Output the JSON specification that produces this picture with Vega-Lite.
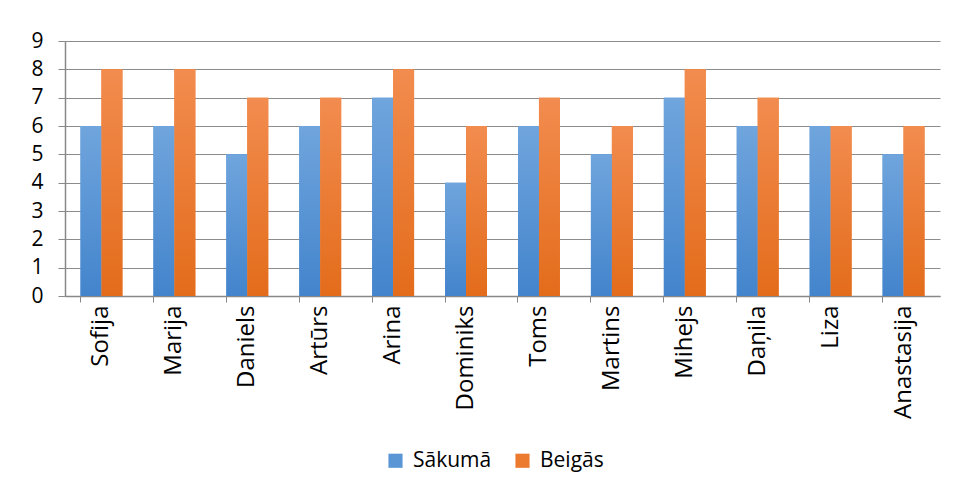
{
  "$schema": "https://vega.github.io/schema/vega-lite/v6.json",
  "width": 875,
  "height": 255,
  "autosize": {"type": "none"},
  "padding": {"left": 65, "top": 41, "right": 18, "bottom": 201},
  "background": "white",
  "data": {
    "values": [
      {"name": "Sofija", "series": "Sākumā", "value": 6},
      {"name": "Sofija", "series": "Beigās", "value": 8},
      {"name": "Marija", "series": "Sākumā", "value": 6},
      {"name": "Marija", "series": "Beigās", "value": 8},
      {"name": "Daniels", "series": "Sākumā", "value": 5},
      {"name": "Daniels", "series": "Beigās", "value": 7},
      {"name": "Artūrs", "series": "Sākumā", "value": 6},
      {"name": "Artūrs", "series": "Beigās", "value": 7},
      {"name": "Arina", "series": "Sākumā", "value": 7},
      {"name": "Arina", "series": "Beigās", "value": 8},
      {"name": "Dominiks", "series": "Sākumā", "value": 4},
      {"name": "Dominiks", "series": "Beigās", "value": 6},
      {"name": "Toms", "series": "Sākumā", "value": 6},
      {"name": "Toms", "series": "Beigās", "value": 7},
      {"name": "Martins", "series": "Sākumā", "value": 5},
      {"name": "Martins", "series": "Beigās", "value": 6},
      {"name": "Mihejs", "series": "Sākumā", "value": 7},
      {"name": "Mihejs", "series": "Beigās", "value": 8},
      {"name": "Daņila", "series": "Sākumā", "value": 6},
      {"name": "Daņila", "series": "Beigās", "value": 7},
      {"name": "Liza", "series": "Sākumā", "value": 6},
      {"name": "Liza", "series": "Beigās", "value": 6},
      {"name": "Anastasija", "series": "Sākumā", "value": 5},
      {"name": "Anastasija", "series": "Beigās", "value": 6}
    ]
  },
  "encoding": {
    "x": {
      "field": "name",
      "type": "nominal",
      "sort": null,
      "title": null,
      "scale": {"paddingInner": 0.425, "paddingOuter": 0.2125},
      "axis": {
        "labelAngle": -90,
        "labelAlign": "right",
        "labelBaseline": "middle",
        "labelFont": "Open Sans",
        "labelFontSize": 24,
        "labelColor": "#000000",
        "labelPadding": 3,
        "bandPosition": 0,
        "tickColor": "#888888",
        "tickSize": 6,
        "domainColor": "#888888",
        "domainWidth": 1.5,
        "grid": false
      }
    },
    "xOffset": {
      "field": "series",
      "type": "nominal",
      "sort": ["Sākumā", "Beigās"],
      "scale": {"domain": ["Sākumā", "Beigās"], "paddingInner": 0, "paddingOuter": 0}
    },
    "y": {
      "field": "value",
      "type": "quantitative",
      "title": null,
      "scale": {"domain": [0, 9], "nice": false},
      "axis": {
        "values": [0, 1, 2, 3, 4, 5, 6, 7, 8, 9],
        "labelFont": "Open Sans",
        "labelFontSize": 21,
        "labelColor": "#000000",
        "labelPadding": 15,
        "labelOverlap": false,
        "tickColor": "#888888",
        "tickSize": 7,
        "domainColor": "#888888",
        "domainWidth": 1.5,
        "gridColor": "#8c8c8c",
        "gridWidth": 1
      }
    }
  },
  "layer": [
    {
      "mark": {"type": "bar"},
      "encoding": {
        "color": {
          "field": "series",
          "type": "nominal",
          "sort": ["Sākumā", "Beigās"],
          "scale": {"domain": ["Sākumā", "Beigās"], "range": ["#5a96d6", "#ec7b30"]},
          "legend": {
            "title": null,
            "orient": "none",
            "legendX": 320,
            "legendY": 409,
            "direction": "horizontal",
            "symbolType": "square",
            "symbolSize": 200,
            "symbolStrokeWidth": 0,
            "labelFont": "Open Sans",
            "labelFontSize": 21,
            "labelColor": "#000000",
            "labelOffset": 7,
            "columnPadding": 20
          }
        }
      }
    },
    {
      "transform": [{"filter": "datum.series === 'Sākumā'"}],
      "mark": {
        "type": "bar",
        "fill": {
          "gradient": "linear",
          "x1": 0, "y1": 0, "x2": 0, "y2": 1,
          "stops": [
            {"offset": 0, "color": "#70a5dd"},
            {"offset": 1, "color": "#4384cc"}
          ]
        }
      },
      "encoding": {}
    },
    {
      "transform": [{"filter": "datum.series === 'Beigās'"}],
      "mark": {
        "type": "bar",
        "fill": {
          "gradient": "linear",
          "x1": 0, "y1": 0, "x2": 0, "y2": 1,
          "stops": [
            {"offset": 0, "color": "#f28c4f"},
            {"offset": 1, "color": "#e36c1b"}
          ]
        }
      },
      "encoding": {}
    }
  ],
  "config": {
    "view": {"stroke": null}
  }
}
